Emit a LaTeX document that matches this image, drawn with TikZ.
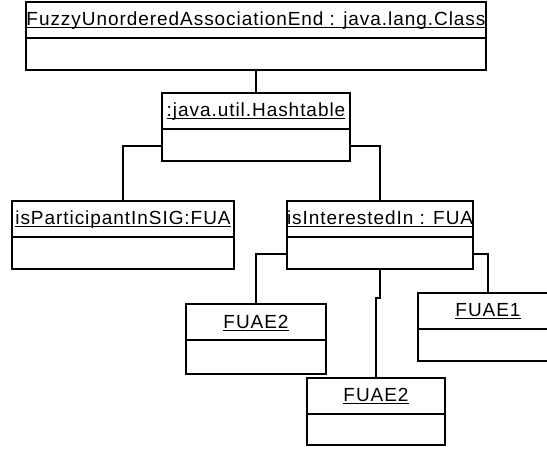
\documentclass[tikz,border=0pt]{standalone}
\usepackage{fontspec}
\setmainfont{Liberation Sans}
\usetikzlibrary{positioning, calc}

% underlined object name, line kept just under the baseline
\newsavebox\namebox
\newcommand{\objname}[1]{\sbox\namebox{#1}%
  \rlap{\rule[-2.8pt]{\wd\namebox}{1pt}}\usebox\namebox}

\tikzset{
  obj/.style  = {rectangle, draw=black, line width=2pt, anchor=north west,
                 minimum height=68pt, inner sep=0pt, text height=12pt, text depth=33pt,
                 font=\fontsize{19}{21}\selectfont\addfontfeature{LetterSpace=5},
                 path picture={\draw [line width=2pt]
                   ([yshift=-36pt]path picture bounding box.north west) --
                   ([yshift=-36pt]path picture bounding box.north east);}},
  link/.style = {line width=2pt, draw=black},
}

\begin{document}
\begin{tikzpicture}[x=1pt, y=-1pt]
\useasboundingbox (0,0) rectangle (547,448);
\clip (0,0) rectangle (547,448);

% Class object and its table
\node (cls)  [obj, minimum width=460pt] at (25,1)   {\objname{FuzzyUnorderedAssociationEnd : java.lang.Class}};
\node (hash) [obj, minimum width=188pt] at (161,92) {\objname{:java.util.Hashtable}};

% Association ends
\node (part)  [obj, minimum width=222pt] at (11,200)  {\objname{isParticipantInSIG:FUA}};
\node (inter) [obj, minimum width=184pt] at (286,200) {\objname{isInterestedIn : FUA}};

% Fuzzy ends
\node (fuaeA) [obj, minimum width=140pt, minimum height=70pt] at (185,303) {\objname{FUAE2}};
\node (fuaeB) [obj, minimum width=138pt, minimum height=67pt] at (306,377) {\objname{FUAE2}};
\node (fuaeC) [obj, minimum width=140pt] at (417,292) {\objname{FUAE1}};

% Links
\draw [link] (cls.south) -- (hash.north);
\draw [link] ([yshift=16pt]hash.south west) -| (part.north);
\draw [link] ([yshift=16pt]hash.south east) -| (inter.north);
\draw [link] ([yshift=16pt]inter.south west) -| (fuaeA.north);
\draw [link] ([yshift=16pt]inter.south east) -| (fuaeC.north);
\draw [link] (inter.south) -- ++(0,28) -| (fuaeB.north);

\end{tikzpicture}
\end{document}
